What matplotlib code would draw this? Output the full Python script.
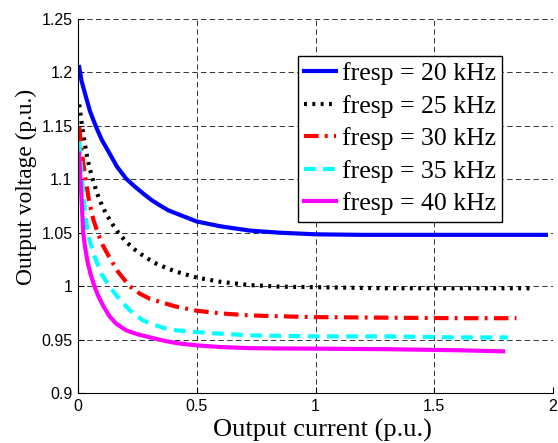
import matplotlib
matplotlib.use("Agg")
import matplotlib.pyplot as plt

# ---- data ----
x20 = [0.005, 0.015, 0.031, 0.05, 0.076, 0.1, 0.132, 0.165, 0.203, 0.24, 0.276, 0.31, 0.346, 0.38, 0.417, 0.46, 0.5, 0.6, 0.723, 0.85, 1.0, 1.2, 1.5, 1.8, 1.97]
y20 = [1.205, 1.192, 1.179, 1.164, 1.149, 1.137, 1.1245, 1.1115, 1.1005, 1.093, 1.0864, 1.0805, 1.0754, 1.071, 1.0677, 1.064, 1.0605, 1.056, 1.052, 1.050, 1.0485, 1.048, 1.048, 1.048, 1.048]

x25 = [0.005, 0.017, 0.034, 0.048, 0.062, 0.08, 0.1, 0.12, 0.145, 0.17, 0.2, 0.24, 0.287, 0.33, 0.372, 0.414, 0.5, 0.6, 0.723, 0.85, 1.0, 1.3, 1.6, 1.91]
y25 = [1.170, 1.150, 1.126, 1.111, 1.100, 1.087, 1.076, 1.067, 1.058, 1.050, 1.042, 1.034, 1.0265, 1.021, 1.017, 1.0135, 1.008, 1.004, 1.001, 0.9995, 0.999, 0.998, 0.998, 0.998]

x30 = [0.005, 0.012, 0.022, 0.034, 0.048, 0.065, 0.083, 0.105, 0.132, 0.17, 0.217, 0.26, 0.304, 0.35, 0.41, 0.5, 0.6, 0.723, 0.85, 1.0, 1.3, 1.6, 1.846]
y30 = [1.149, 1.135, 1.115, 1.097, 1.078, 1.062, 1.050, 1.038, 1.027, 1.013, 1.0, 0.993, 0.988, 0.985, 0.981, 0.977, 0.9745, 0.9726, 0.9718, 0.971, 0.9705, 0.970, 0.970]

x35 = [0.005, 0.012, 0.02, 0.03, 0.04, 0.05, 0.062, 0.076, 0.1, 0.132, 0.17, 0.22, 0.273, 0.304, 0.36, 0.42, 0.5, 0.6, 0.723, 0.85, 1.0, 1.3, 1.6, 1.81]
y35 = [1.135, 1.114, 1.093, 1.068, 1.052, 1.042, 1.033, 1.024, 1.011, 1.0, 0.989, 0.977, 0.968, 0.965, 0.961, 0.9585, 0.957, 0.9555, 0.954, 0.9535, 0.953, 0.953, 0.952, 0.952]

x40 = [0.005, 0.009, 0.013, 0.017, 0.022, 0.03, 0.04, 0.052, 0.069, 0.085, 0.105, 0.132, 0.16, 0.203, 0.25, 0.304, 0.36, 0.42, 0.5, 0.6, 0.723, 0.85, 1.0, 1.3, 1.6, 1.79]
y40 = [1.124, 1.105, 1.090, 1.072, 1.050, 1.036, 1.023, 1.012, 1.0, 0.991, 0.982, 0.972, 0.965, 0.9586, 0.955, 0.952, 0.949, 0.9465, 0.9446, 0.943, 0.942, 0.9417, 0.9415, 0.941, 0.940, 0.939]

labels = ["fresp = 20 kHz", "fresp = 25 kHz", "fresp = 30 kHz", "fresp = 35 kHz", "fresp = 40 kHz"]
xticks = [0, 0.5, 1, 1.5, 2]
xticklabels = ["0", "0.5", "1", "1.5", "2"]
yticks = [0.9, 0.95, 1.0, 1.05, 1.1, 1.15, 1.2, 1.25]
yticklabels = ["0.9", "0.95", "1", "1.05", "1.1", "1.15", "1.2", "1.25"]

fig = plt.figure(figsize=(5.58, 4.43), dpi=100)
ax = fig.add_axes([78/558, 1-393/443, (553-78)/558, 374/443])

lw = 3.0
ax.plot(x20, y20, color="#0000ff", lw=lw, ls="-", label=labels[0])
ax.plot(x25, y25, color="black", lw=lw, ls=(0, (0.7, 1.3)), label=labels[1])
ax.plot(x30, y30, color="#ff0000", lw=lw, ls=(0, (3.5, 1.5, 0.7, 1.5)), label=labels[2])
ax.plot(x35, y35, color="#00ffff", lw=lw, ls=(0, (2.8, 1.8)), label=labels[3])
ax.plot(x40, y40, color="#ff00ff", lw=lw, ls="-", label=labels[4])

ax.set_xlim(0, 2)
ax.set_ylim(0.9, 1.25)
ax.set_xticks(xticks)
ax.set_xticklabels(xticklabels, fontfamily="Liberation Sans", fontsize=11.5)
ax.set_yticks(yticks)
ax.set_yticklabels(yticklabels, fontfamily="Liberation Sans", fontsize=11.5)
ax.tick_params(direction="in", length=4, width=0.8, pad=4)

ax.spines["top"].set_visible(False)
ax.spines["right"].set_visible(False)
ax.grid(True, color="0.2", lw=0.7, ls=(0, (5.5, 3.5)))
ax.set_axisbelow(True)

ax.set_xlabel("Output current (p.u.)", fontfamily="Liberation Serif", fontsize=19)
ax.xaxis.set_label_coords((322-78)/475, (393-419)/374)
ax.set_ylabel("Output voltage (p.u.)", fontfamily="Liberation Serif", fontsize=16.8)
ax.yaxis.set_label_coords((37-78)/475, (393-187)/374)

leg = ax.legend(loc="upper left", bbox_to_anchor=(0.463, 0.901),
                prop={"family": "Liberation Serif", "size": 18.5},
                frameon=True, fancybox=False, shadow=False, edgecolor="black",
                framealpha=1, handlelength=1.25, handletextpad=0.2, labelspacing=0.37,
                borderpad=0.25, borderaxespad=0)
leg.get_frame().set_linewidth(1.0)

fig.savefig("out.png", dpi=100)
